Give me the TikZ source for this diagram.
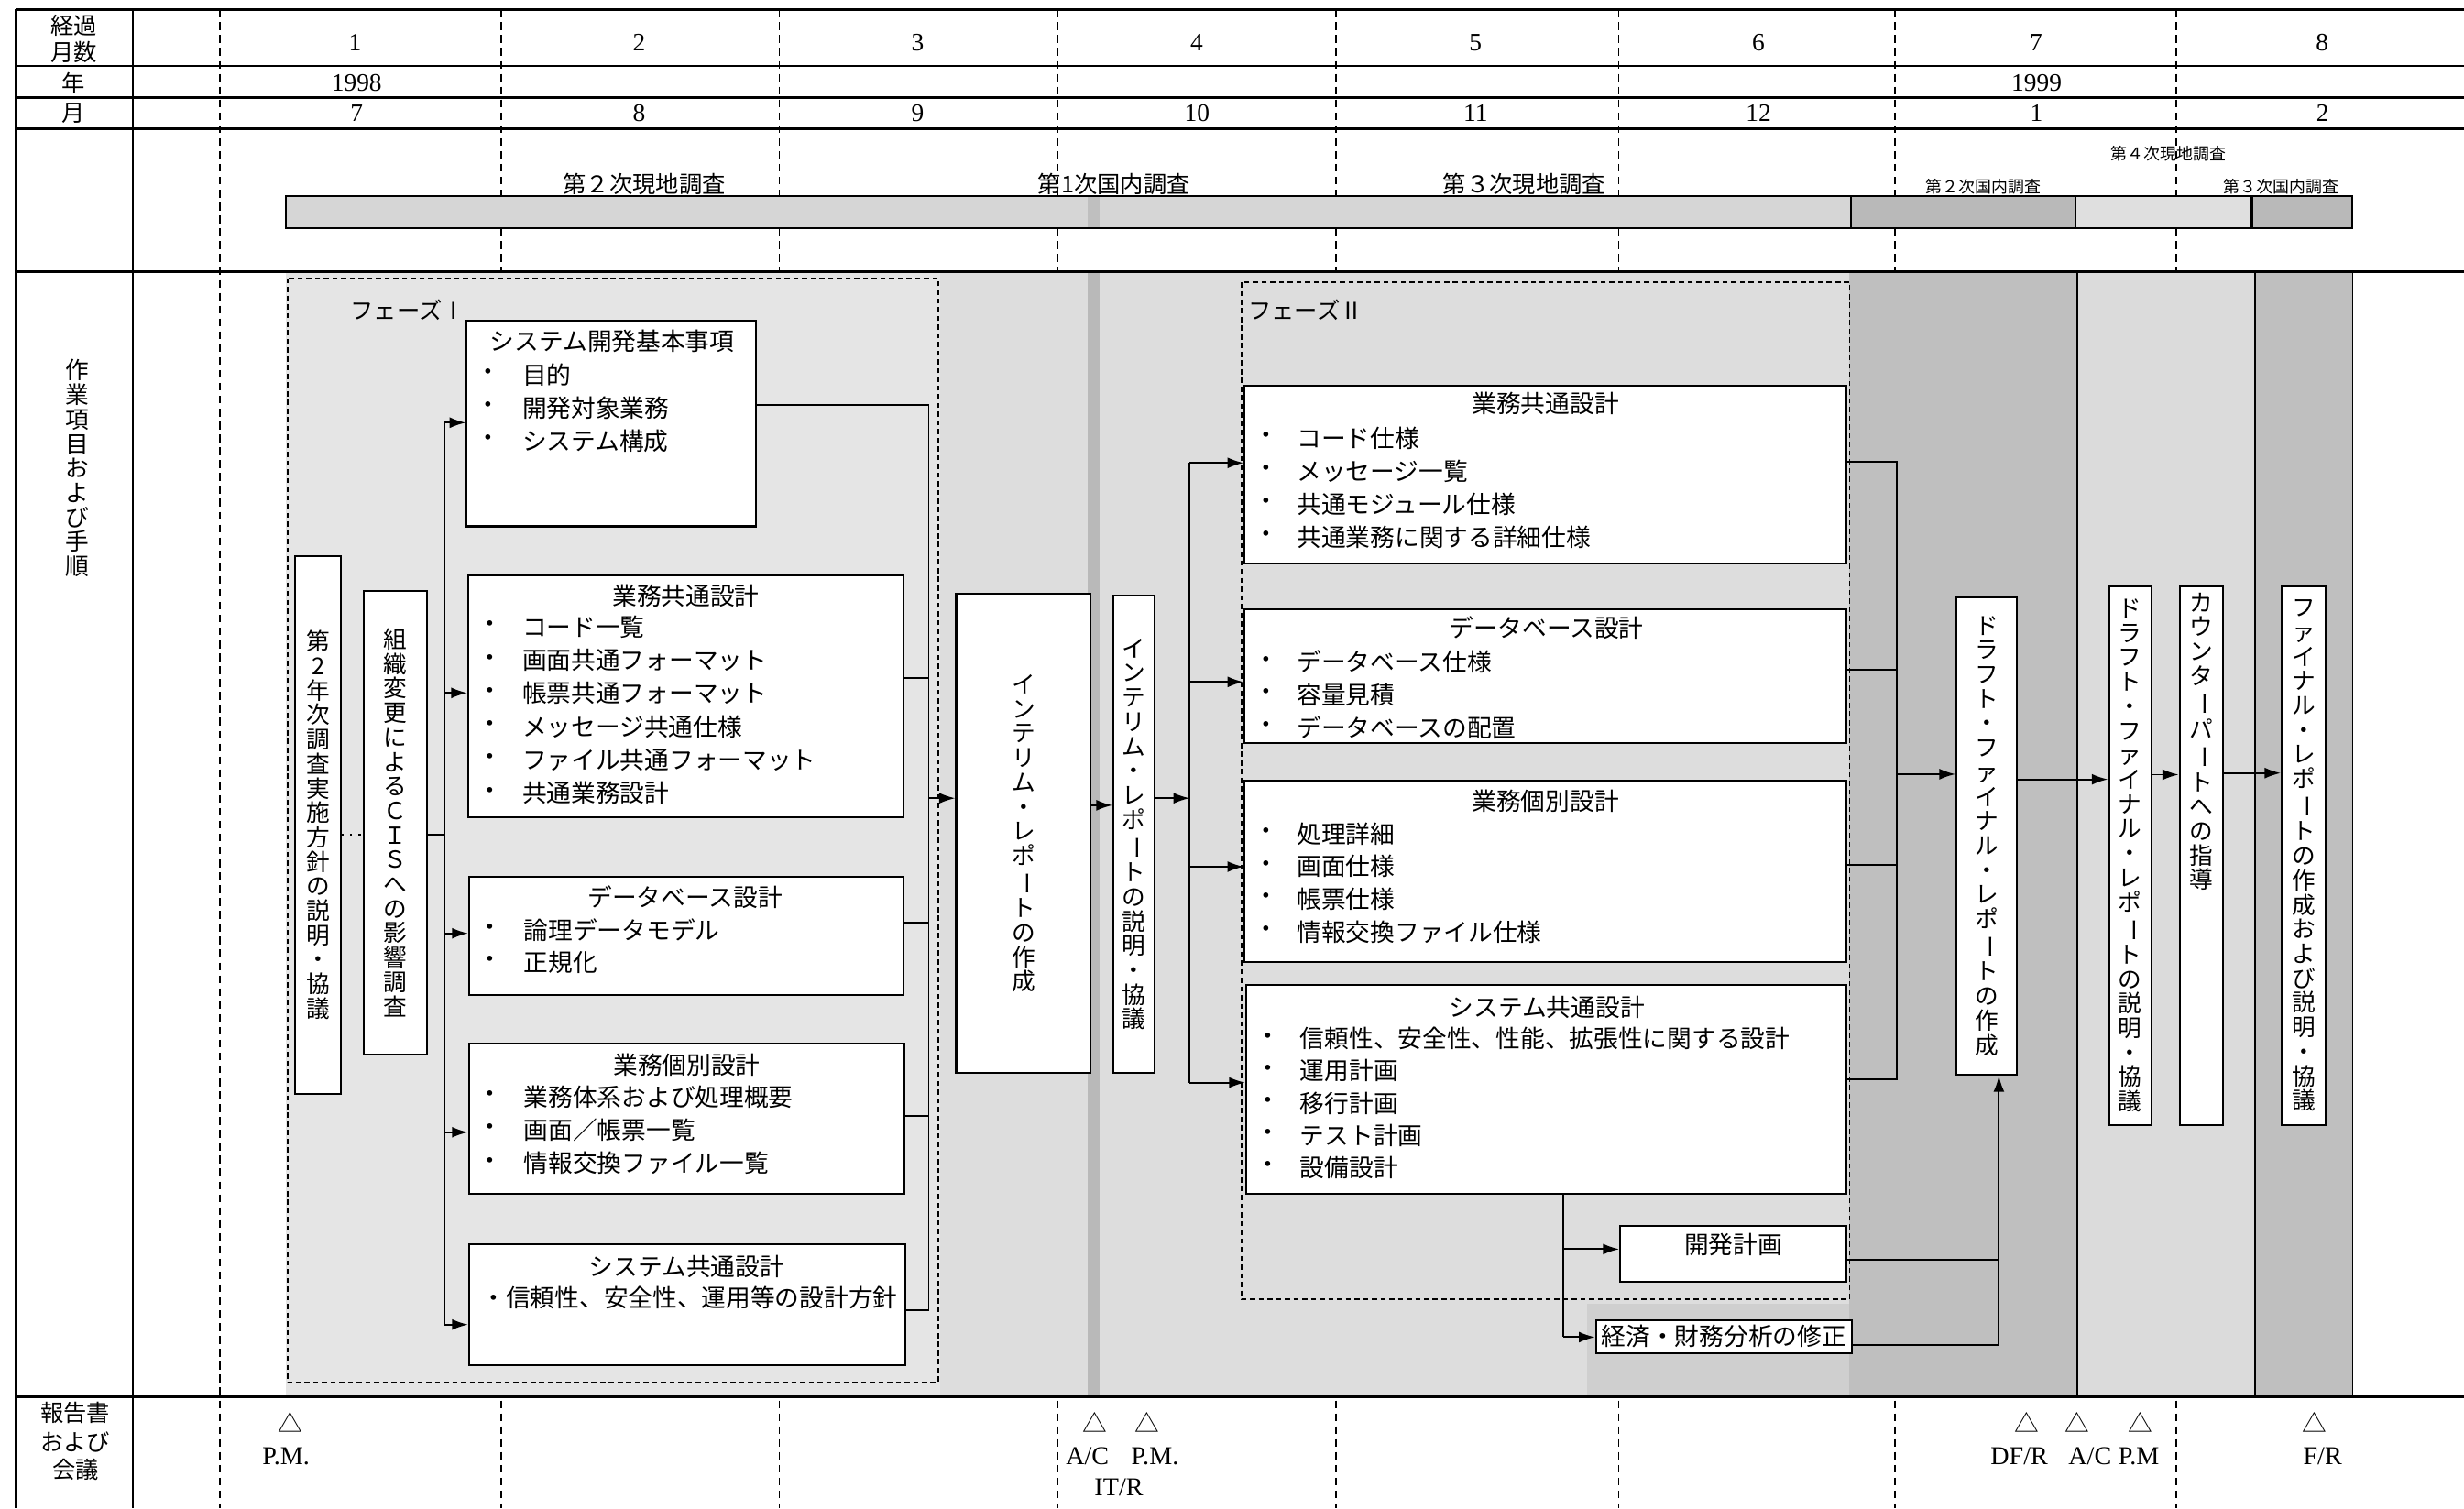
\documentclass[tikz,border=0pt]{standalone}
\usepackage{fontspec}
\usepackage{graphicx}
\setmainfont{Liberation Serif}
\newfontfamily\cjk{Noto Sans CJK JP}
\usetikzlibrary{arrows.meta,fit}

\ExplSyntaxOn
\NewDocumentCommand\Vtx{m}
 {
  \seq_clear:N \l_tmpa_seq
  \tl_map_inline:nn {#1}
   {
    \str_if_eq:nnTF {##1} {ー}
     { \seq_put_right:Nn \l_tmpa_seq { \rotatebox[origin=c]{-90}{ー} } }
     { \seq_put_right:Nn \l_tmpa_seq {##1} }
   }
  \seq_use:Nn \l_tmpa_seq { \\ }
 }
\ExplSyntaxOff

\newcommand\blist[6]{%
  \foreach \itx [count=\n] in {#6} {%
    \node[jp] (#1-b\n) at (#2,{#4+#5*(\n-1)}) {・};
    \node[jp,anchor=west] (#1-\n) at (#3,{#4+#5*(\n-1)}) {\itx};
  }}

\begin{document}
\begin{tikzpicture}[x=0.017149cm,y=-0.017149cm,
 box/.style={draw,line width=0.6pt,fill=white,inner sep=0pt},
 jp/.style={font=\cjk\fontsize{7.6pt}{9pt}\selectfont,inner sep=0pt},
 sjp/.style={font=\cjk\fontsize{7.2pt}{8pt}\selectfont,inner sep=0pt},
 tjp/.style={font=\cjk\fontsize{5.1pt}{6pt}\selectfont,inner sep=0pt},
 vjp/.style={font=\cjk\fontsize{7.3pt}{7.6pt}\selectfont,align=center,inner sep=0pt},
 num/.style={font=\fontsize{7.8pt}{9pt}\selectfont,inner sep=0pt},
 rep/.style={font=\fontsize{8pt}{9pt}\selectfont,inner sep=0pt},
 arr/.style={-{Latex[length=5pt,width=3.4pt]},line width=0.55pt},
 ln/.style={line width=0.55pt},
 col/.style={dash pattern=on 2.4pt off 1.6pt,line width=0.5pt},
 frm/.style={line width=0.8pt},
 phs/.style={dash pattern=on 1.6pt off 1.1pt,line width=0.5pt}]
\useasboundingbox (0,0) rectangle (1568,960);
\fill[white] (0,0) rectangle (1568,960);

% month column dashed lines
\foreach \cx [count=\n] in {140,319,496,673,850,1030,1206,1385}{
  \coordinate (ct\n) at (\cx,6);
  \coordinate (cb\n) at (\cx,960);
  \draw[col] (ct\n) -- (cb\n);}

% shading of the work area
\fill[gray!20] (182,173) rectangle (598,889);
\fill[gray!27] (598,173) rectangle (1177,889);
\fill[gray!55] (692,173) rectangle (700,889);
\fill[gray!38] (1010,830) rectangle (1177,889);
\fill[gray!50] (1177,173) rectangle (1322,889);
\fill[gray!28] (1322,173) rectangle (1435,889);
\fill[gray!50] (1435,173) rectangle (1497,889);
\draw[line width=0.4pt] (1322,173) -- (1322,889) (1435,173) -- (1435,889) (1497,173) -- (1497,889);

% survey bar
\fill[gray!32] (182,125) rectangle (1178,145);
\fill[gray!50] (692,125) rectangle (700,145);
\fill[gray!55] (1178,125) rectangle (1321,145);
\fill[gray!25] (1321,125) rectangle (1433,145);
\fill[gray!55] (1433,125) rectangle (1497,145);
\draw[line width=0.6pt] (182,125) rectangle (1497,145)
  (1178,125) -- (1178,145) (1321,125) -- (1321,145) (1433,125) -- (1433,145);

% frame
\draw[frm] (10,6) -- (1568,6);
\draw[frm] (10,42) -- (1568,42);
\draw[frm] (10,62) -- (1568,62);
\draw[frm] (10,82) -- (1568,82);
\draw[frm] (10,173) -- (1568,173);
\draw[frm] (10,889) -- (1568,889);
\draw[frm] (10,6) -- (10,960);
\draw[frm] (84.5,6) -- (84.5,960);

% header texts
\node[sjp] (l1a) at (47,16.5) {経過};
\node[sjp] (l1b) at (47,33) {月数};
\node[sjp] (l2) at (47,53) {年};
\node[sjp] (l3) at (47,72) {月};
\node[vjp] (l4) at (49,298) {\Vtx{作業項目および手順}};
\node[sjp] (l5a) at (48,899) {報告書};
\node[sjp] (l5b) at (48,918) {および};
\node[sjp] (l5c) at (48,935) {会議};

\foreach \mx/\mt [count=\n] in {226/1,406.7/2,584/3,761.6/4,939/5,1119/6,1295.6/7,1477.7/8}
  \node[num] (m\n) at (\mx,27) {\mt};
\node[num] (y1) at (227,53) {1998};
\node[num] (y2) at (1296,53) {1999};
\foreach \mx/\mt [count=\n] in {227/7,406.7/8,584/9,761.7/10,939/11,1119/12,1296/1,1478/2}
  \node[num] (mo\n) at (\mx,72) {\mt};

\node[sjp] (s1) at (410,117) {第２次現地調査};
\node[sjp] (s2) at (709,117) {第1次国内調査};
\node[sjp] (s3) at (970,117) {第３次現地調査};
\node[tjp] (s4) at (1262,119) {第２次国内調査};
\node[tjp] (s5) at (1380,98) {第４次現地調査};
\node[tjp] (s6) at (1451.6,119) {第３次国内調査};

% phases
\draw[phs] (183,177) rectangle (597,880);
\draw[phs] (790,179.6) rectangle (1177,827);
\node[sjp] (ph1) at (259.6,197) {フェーズⅠ};
\node[sjp,anchor=west] (ph2) at (794,197) {フェーズⅡ};

% phase I boxes
\node[box,fit={(297,204) (481,335)}] (b1) {};
\node[jp] (b1t) at (389.6,217) {システム開発基本事項};
\blist{b1}{311}{332}{238.4}{21.1}{目的,開発対象業務,システム構成}

\node[box,fit={(298,366) (575,520)}] (b2) {};
\node[jp] (b2t) at (436.5,379) {業務共通設計};
\blist{b2}{312}{332}{399}{21.15}{コード一覧,画面共通フォーマット,帳票共通フォーマット,メッセージ共通仕様,ファイル共通フォーマット,共通業務設計}

\node[box,fit={(298.5,558) (575,633)}] (b3) {};
\node[jp] (b3t) at (436,571) {データベース設計};
\blist{b3}{312}{333}{592}{20.5}{論理データモデル,正規化}

\node[box,fit={(298.5,664) (575.5,760)}] (b4) {};
\node[jp] (b4t) at (437,677.5) {業務個別設計};
\blist{b4}{312}{333}{698}{21.2}{業務体系および処理概要,画面／帳票一覧,情報交換ファイル一覧}

\node[box,fit={(298.5,792) (576,869)}] (b5) {};
\node[jp] (b5t) at (437,806) {システム共通設計};
\node[jp,anchor=west] (b5-1) at (306,826) {・信頼性、安全性、運用等の設計方針};

\node[box,fit={(188,354) (217,696)}] (vA) {};
\node[vjp] (vAt) at (vA.center) {\Vtx{第2年次調査実施方針の説明・協議}};
\node[box,fit={(231.5,376) (271.5,671)}] (vB) {};
\node[vjp] (vBt) at (vB.center) {\Vtx{組織変更によるＣＩＳへの影響調査}};

% interim
\node[box,fit={(608.5,378) (694,683)}] (ir) {};
\node[vjp] (irt) at (ir.center) {\Vtx{インテリム・レポートの作成}};
\node[box,fit={(708.5,379) (734.5,683)}] (ie) {};
\node[vjp] (iet) at (ie.center) {\Vtx{インテリム・レポートの説明・協議}};

% phase II boxes
\node[box,fit={(792,245.6) (1175,358.6)}] (p1) {};
\node[jp] (p1t) at (983.5,257) {業務共通設計};
\blist{p1}{806}{825}{278.7}{21}{コード仕様,メッセージ一覧,共通モジュール仕様,共通業務に関する詳細仕様}

\node[box,fit={(792,388) (1175,473)}] (p2) {};
\node[jp] (p2t) at (984,399.5) {データベース設計};
\blist{p2}{806}{825}{421.4}{20.8}{データベース仕様,容量見積,データベースの配置}

\node[box,fit={(792,497) (1175,612)}] (p3) {};
\node[jp] (p3t) at (983.5,509.7) {業務個別設計};
\blist{p3}{806}{825}{530.6}{20.8}{処理詳細,画面仕様,帳票仕様,情報交換ファイル仕様}

\node[box,fit={(793,627) (1175,760)}] (p4) {};
\node[jp] (p4t) at (984.5,641) {システム共通設計};
\blist{p4}{807}{827}{661}{20.5}{信頼性、安全性、性能、拡張性に関する設計,運用計画,移行計画,テスト計画,設備設計}

\node[box,fit={(1031,780) (1175,816)}] (kp) {};
\node[jp] (kpt) at (1103,792) {開発計画};
\node[box,fit={(1015.6,840) (1178.5,861)}] (ke) {};
\node[jp] (ket) at (ke.center) {経済・財務分析の修正};

% final stage boxes
\node[box,fit={(1245,380) (1283.6,684)}] (dr) {};
\node[vjp] (drt) at (dr.center) {\Vtx{ドラフト・ファイナル・レポートの作成}};
\node[box,fit={(1342,373) (1369,716)}] (de) {};
\node[vjp] (det) at (de.center) {\Vtx{ドラフト・ファイナル・レポートの説明・協議}};
\node[box,fit={(1387,373) (1414.7,716)}] (cp) {};
\node[vjp,anchor=north] (cpt) at ([yshift=-2.2pt]cp.north) {\Vtx{カウンターパートへの指導}};
\node[box,fit={(1452,373) (1480,716)}] (fr) {};
\node[vjp] (frt) at (fr.center) {\Vtx{ファイナル・レポートの作成および説明・協議}};

% ---- connectors, phase I
\coordinate (jB) at (283,531);
\draw[dotted,line width=0.6pt] (vA.east |- jB) -- (vB.west |- jB);
\draw[ln] (vB.east |- jB) -- (jB);
\coordinate (t1a) at (283,269);
\coordinate (t1b) at (283,441);
\coordinate (t1c) at (283,594);
\coordinate (t1d) at (283,720.6);
\coordinate (t1e) at (283,843);
\draw[ln] (t1a) -- (t1e);
\draw[arr] (t1a) -- (t1a -| b1.west);
\draw[arr] (t1b) -- (t1b -| b2.west);
\draw[arr] (t1c) -- (t1c -| b3.west);
\draw[arr] (t1d) -- (t1d -| b4.west);
\draw[arr] (t1e) -- (t1e -| b5.west);

\coordinate (c1a) at (591,258);
\coordinate (c1b) at (591,431.5);
\coordinate (c1c) at (591,587);
\coordinate (c1d) at (591,710);
\coordinate (c1e) at (591,834);
\coordinate (c1o) at (591,508);
\draw[ln] (c1a -| b1.east) -- (c1a) -- (c1e) -- (c1e -| b5.east);
\draw[ln] (c1b -| b2.east) -- (c1b);
\draw[ln] (c1c -| b3.east) -- (c1c);
\draw[ln] (c1d -| b4.east) -- (c1d);
\draw[arr] (c1o) -- (c1o -| ir.west);

% interim
\coordinate (i1) at (701,512.5);
\draw[arr] (ir.east |- i1) -- (ie.west |- i1);
\coordinate (t2in) at (757,508);
\draw[arr] (ie.east |- t2in) -- (t2in);

% phase II
\coordinate (t2a) at (757,294.6);
\coordinate (t2b) at (757,434);
\coordinate (t2c) at (757,551.6);
\coordinate (t2d) at (757,689);
\draw[ln] (t2a) -- (t2d);
\draw[arr] (t2a) -- (t2a -| p1.west);
\draw[arr] (t2b) -- (t2b -| p2.west);
\draw[arr] (t2c) -- (t2c -| p3.west);
\draw[arr] (t2d) -- (t2d -| p4.west);

\coordinate (c2a) at (1207,293.7);
\coordinate (c2b) at (1207,426);
\coordinate (c2c) at (1207,550.4);
\coordinate (c2d) at (1207,687);
\coordinate (c2o) at (1207,492.7);
\draw[ln] (c2a -| p1.east) -- (c2a) -- (c2d) -- (c2d -| p4.east);
\draw[ln] (c2b -| p2.east) -- (c2b);
\draw[ln] (c2c -| p3.east) -- (c2c);
\draw[arr] (c2o) -- (c2o -| dr.west);

\coordinate (k1) at (995,795);
\coordinate (k2) at (995,851);
\draw[ln] (p4.south -| k1) -- (k2);
\draw[arr] (k1) -- (k1 -| kp.west);
\draw[arr] (k2) -- (k2 -| ke.west);

\coordinate (d1) at (1272,802);
\coordinate (d2) at (1272,856);
\draw[ln] (d1 -| kp.east) -- (d1);
\draw[ln] (d2 -| ke.east) -- (d2);
\draw[arr] (d2) -- (d2 |- dr.south);

\coordinate (e1) at (1300,496);
\draw[arr] (dr.east |- e1) -- (de.west |- e1);
\coordinate (e2) at (1378,493);
\draw[arr] (de.east |- e2) -- (cp.west |- e2);
\coordinate (e3) at (1430,492);
\draw[arr] (cp.east |- e3) -- (fr.west |- e3);

% reports and meetings
\foreach \tx [count=\n] in {185,697,730,1290,1322,1362,1473}
  \node[jp] (tri\n) at (\tx,905) {△};
\node[rep] (r1) at (182,927) {P.M.};
\node[rep] (r2) at (692,927) {A/C};
\node[rep] (r3) at (735,927) {P.M.};
\node[rep] (r4) at (712,946.5) {IT/R};
\node[rep] (r5) at (1285,927) {DF/R};
\node[rep] (r6) at (1330,927) {A/C};
\node[rep] (r7) at (1361,927) {P.M};
\node[rep] (r8) at (1478,927) {F/R};
\end{tikzpicture}
\end{document}
